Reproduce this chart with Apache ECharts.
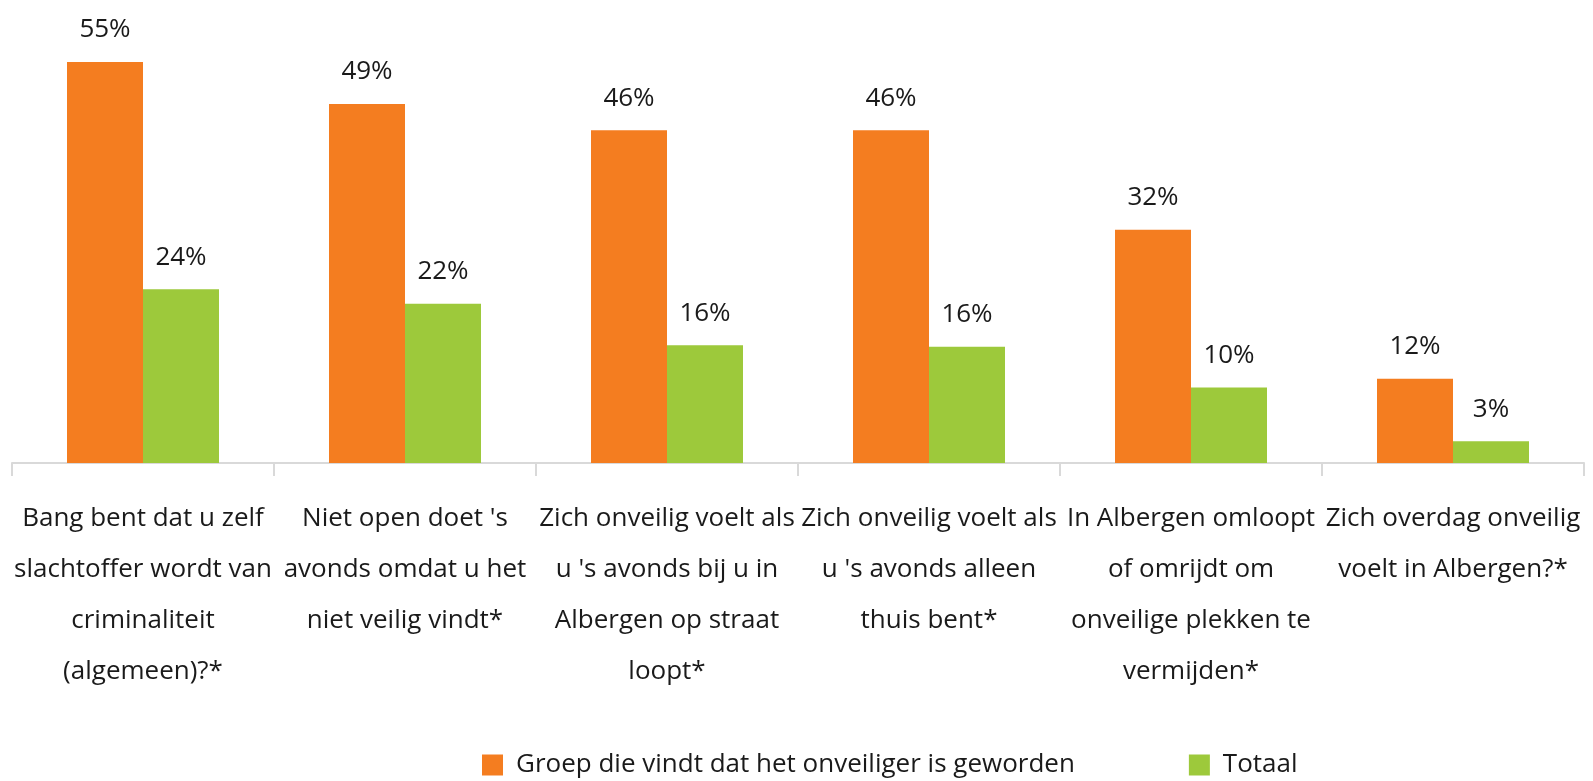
<!DOCTYPE html>
<html>
<head>
<meta charset="utf-8">
<script src="https://cdn.jsdelivr.net/npm/echarts@6/dist/echarts.min.js"></script>
<style>
  html, body { margin: 0; padding: 0; background: #fff; }
  #chart { width: 1593px; height: 781px; }
</style>
</head>
<body>
<div id="chart"></div>
<script>
// categorieen (regelafbreking zoals in het origineel)
var categories = [
  "Bang bent dat u zelf\nslachtoffer wordt van\ncriminaliteit\n(algemeen)?*",
  "Niet open doet 's\navonds omdat u het\nniet veilig vindt*",
  "Zich onveilig voelt als\nu 's avonds bij u in\nAlbergen op straat\nloopt*",
  "Zich onveilig voelt als\nu 's avonds alleen\nthuis bent*",
  "In Albergen omloopt\nof omrijdt om\nonveilige plekken te\nvermijden*",
  "Zich overdag onveilig\nvoelt in Albergen?*"
];
var seriesNames = ["Groep die vindt dat het onveiliger is geworden", "Totaal"];
var groepValues = [55.2, 49.4, 45.8, 45.8, 32.1, 11.6];
var totaalValues = [23.9, 21.9, 16.2, 16.0, 10.4, 3.0];

var fontName = "'Open Sans', sans-serif";
var chart = echarts.init(document.getElementById("chart"));

function barLabel() {
  return {
    show: true,
    position: 'top',
    distance: 19,
    color: '#1a1a1a',
    fontFamily: fontName,
    fontSize: 26,
    formatter: function (p) { return Math.round(p.value) + '%'; }
  };
}

var option = {
  animation: false,
  grid: { left: 12, right: 9, top: 27, bottom: 318, containLabel: false, outerBoundsMode: 'none' },
  legend: {
    top: 747,
    left: 477,
    itemWidth: 21,
    itemHeight: 21,
    itemGap: 114,
    icon: 'rect',
    textStyle: { fontFamily: fontName, fontSize: 26, color: '#1a1a1a', padding: [0, 0, 0, 8] },
    data: seriesNames
  },
  xAxis: {
    type: 'category',
    data: categories,
    axisLine: { lineStyle: { color: '#d9d9d9', width: 2 } },
    axisTick: { show: true, length: 13, lineStyle: { color: '#d9d9d9', width: 2 } },
    axisLabel: {
      interval: 0,
      margin: 30,
      color: '#1a1a1a',
      fontFamily: fontName,
      fontSize: 26,
      lineHeight: 51
    }
  },
  yAxis: { type: 'value', min: 0, max: 60, show: false, splitLine: { show: false } },
  series: [
    {
      name: seriesNames[0],
      type: 'bar',
      data: groepValues,
      barWidth: 76,
      barGap: '0%',
      itemStyle: { color: '#F47D20' },
      label: barLabel()
    },
    {
      name: seriesNames[1],
      type: 'bar',
      data: totaalValues,
      barWidth: 76,
      itemStyle: { color: '#9DC93B' },
      label: barLabel()
    }
  ]
};
chart.setOption(option);
window.addEventListener('resize', chart.resize);
</script>
</body>
</html>
